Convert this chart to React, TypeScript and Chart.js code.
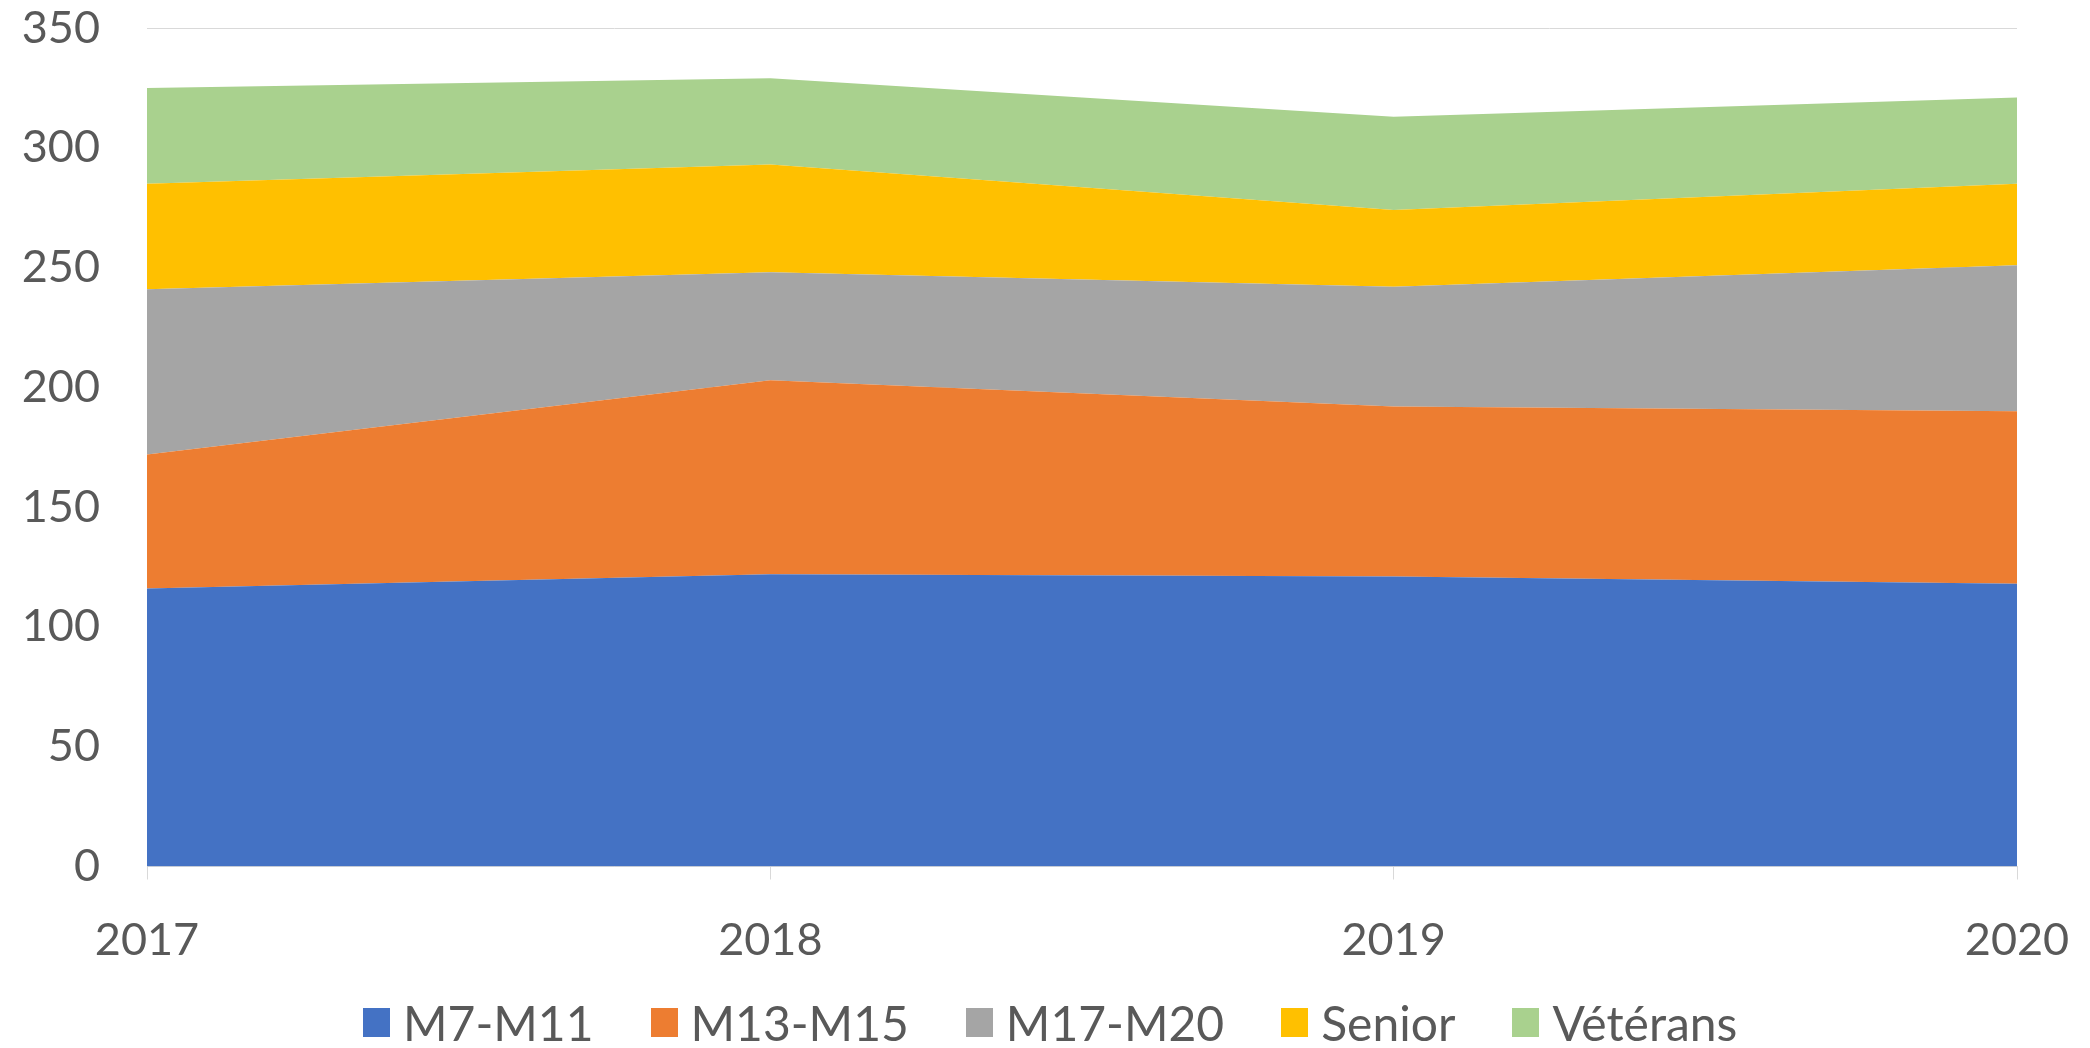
import React, { useEffect, useRef } from "react";
import { Chart, registerables } from "chart.js";

Chart.register(...registerables);

const categories = ["2017", "2018", "2019", "2020"];
const seriesNames = ["M7-M11", "M13-M15", "M17-M20", "Senior", "Vétérans"];
const m7m11 = [116, 122, 121, 118];
const m13m15 = [56, 81, 71, 72];
const m17m20 = [69, 45, 50, 61];
const senior = [44, 45, 32, 34];
const veterans = [40, 36, 39, 36];
const seriesColors = ["#4472C4", "#ED7D31", "#A5A5A5", "#FFC000", "#A9D18E"];
const yMax = 350;
const yStep = 50;

const FONT = "Lato, 'Noto Sans', sans-serif";
const TEXT = "#595959";

export default function App() {
  const ref = useRef<HTMLCanvasElement | null>(null);

  useEffect(() => {
    document.body.style.margin = "0";
    const values = [m7m11, m13m15, m17m20, senior, veterans];
    const chart = new Chart(ref.current!, {
      type: "line",
      data: {
        labels: categories,
        datasets: seriesNames.map((name, i) => ({
          label: name,
          data: values[i],
          backgroundColor: seriesColors[i],
          borderColor: seriesColors[i],
          borderWidth: 0,
          pointRadius: 0,
          tension: 0,
          fill: i === 0 ? "origin" : "-1",
        })),
      },
      options: {
        animation: false,
        responsive: false,
        maintainAspectRatio: false,
        layout: { padding: { top: 28, right: 73, bottom: 52, left: 0 } },
        plugins: {
          legend: { display: false },
          tooltip: { enabled: false },
        },
        scales: {
          x: {
            type: "category",
            offset: false,
            grid: {
              display: true,
              drawOnChartArea: false,
              drawTicks: true,
              tickLength: 13,
              color: "#D9D9D9",
            },
            border: { display: true, color: "#D9D9D9", width: 1 },
            ticks: {
              color: TEXT,
              font: { family: FONT, size: 45 },
              padding: 34,
              maxRotation: 0,
            },
            afterFit: (s: any) => {
              s.height = 129.5;
              s.paddingLeft = 0;
              s.paddingRight = 0;
            },
          },
          y: {
            stacked: true,
            min: 0,
            max: yMax,
            grid: { color: "#D9D9D9", drawTicks: false, lineWidth: 1 },
            border: { display: false },
            ticks: {
              stepSize: yStep,
              color: TEXT,
              font: { family: FONT, size: 45 },
              padding: 47,
            },
            afterFit: (s: any) => {
              s.width = 147;
              s.paddingTop = 0;
              s.paddingBottom = 0;
            },
          },
        },
      },
    });
    return () => chart.destroy();
  }, []);

  return (
    <div style={{ position: "relative", width: 2090, height: 1048, background: "#fff" }}>
      <canvas ref={ref} width={2090} height={1048} style={{ display: "block" }} />
      <div
        style={{
          position: "absolute",
          left: 363,
          top: 996,
          height: 52,
          display: "flex",
          alignItems: "center",
          fontFamily: FONT,
          fontSize: 48,
          color: TEXT,
          whiteSpace: "nowrap",
        }}
      >
        {seriesNames.map((n, i) => (
          <div key={n} style={{ display: "flex", alignItems: "center", marginRight: 57 }}>
            <span style={{ display: "inline-block", width: 27, height: 29, background: seriesColors[i], marginRight: 13 }} />
            <span>{n}</span>
          </div>
        ))}
      </div>
    </div>
  );
}
